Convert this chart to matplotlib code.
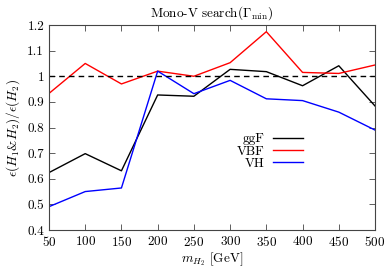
import numpy
import matplotlib
matplotlib.use("Agg")
import matplotlib.pyplot as plt

plt.rcParams['font.family'] = 'serif'
plt.rcParams['font.serif'] = ['cmr10']
plt.rcParams['mathtext.fontset'] = 'cm'
plt.rcParams['axes.formatter.use_mathtext'] = True

masses = [50, 100, 150, 200, 250, 300, 350, 400, 450, 500]
ggF = [0.624, 0.698, 0.631, 0.927, 0.922, 1.027, 1.018, 0.963, 1.041, 0.884]
VBF = [0.933, 1.050, 0.970, 1.020, 1.000, 1.053, 1.174, 1.015, 1.011, 1.044]
VH = [0.491, 0.550, 0.564, 1.020, 0.932, 0.984, 0.912, 0.905, 0.860, 0.790]

fig = plt.figure(figsize=(3.9, 2.69), dpi=100)
ax = fig.add_axes([0.1256, 0.145, 0.836, 0.762])

ax.plot(masses, ggF, color='black', lw=1.0, label='ggF')
ax.plot(masses, VBF, color='red', lw=1.0, label='VBF')
ax.plot(masses, VH, color='blue', lw=1.0, label='VH')
ax.axhline(1.0, color='black', lw=1.0, ls=(0, (4, 3)))

ax.set_xlim(50, 500)
ax.set_ylim(0.4, 1.2)
ax.set_xticks(numpy.arange(50, 501, 50))
ax.set_yticks([0.4, 0.5, 0.6, 0.7, 0.8, 0.9, 1.0, 1.1, 1.2])
ax.set_yticklabels(['0.4', '0.5', '0.6', '0.7', '0.8', '0.9', '1', '1.1', '1.2'])
ax.tick_params(direction='in', top=True, right=True, labelsize=9.5, length=4, width=0.6, colors='#444444', labelcolor='black')
for s in ax.spines.values():
    s.set_linewidth(0.8)
    s.set_color('#444444')

ax.set_title(r'Mono-V search$(\Gamma_{\rm min})$', fontsize=9.5, pad=6)
ax.set_xlabel(r'$m_{H_2}$ [GeV]', fontsize=9.5, labelpad=1)
ax.set_ylabel(r'$\epsilon(H_1$&$H_2)/\epsilon(H_2)$', fontsize=9.5)

ax.legend(loc='upper right', bbox_to_anchor=(0.80, 0.505), frameon=False, markerfirst=False,
          fontsize=9.5, handlelength=2.3, labelspacing=0.0, handletextpad=0.6, borderpad=0)

fig.savefig('out.png', dpi=100)
